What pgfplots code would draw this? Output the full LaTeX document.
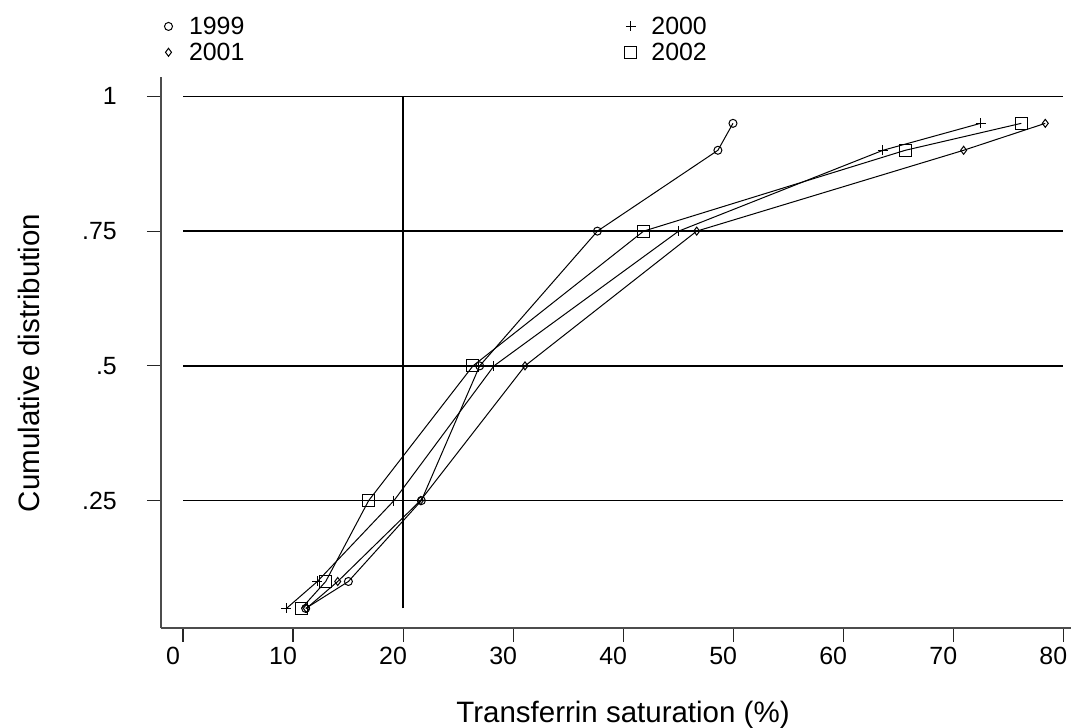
\documentclass[border=0pt]{standalone}
\usepackage{fontspec}
\setmainfont{Liberation Sans}
\usepackage{pgfplots}
\pgfplotsset{compat=1.18}

\begin{document}
\begin{tikzpicture}[x=1bp,y=1bp]
\path[use as bounding box] (0,0) rectangle (1073,728);
\begin{axis}[
    at={(161bp,100bp)}, anchor=south west,
    scale only axis, width=910bp, height=551bp,
    xmin=-2, xmax=80.7,
    ymin=0.0137, ymax=1.036,
    axis lines=left,
    axis line style={-, black!70, line width=1.2bp},
    tick align=outside,
    major tick length=14bp,
    tick style={black!85, line width=1.1bp},
    xtick={0,10,...,80},
    ytick={0.25,0.5,0.75,1},
    yticklabels={.25,.5,.75,1},
    /pgf/number format/assume math mode=true,
    tick label style={font=\fontsize{25}{30}\selectfont},
    xticklabel style={inner sep=0pt, anchor=north, yshift=-5bp, xshift=-10bp},
    yticklabel style={inner sep=0pt, anchor=east, xshift=-30bp},
    xlabel={Transferrin saturation (\%)},
    xlabel style={at={(axis description cs:0.5077,-0.1719)}, anchor=base,
                  font=\fontsize{29.6}{34}\selectfont},
    ylabel={Cumulative distribution},
    ylabel style={at={(axis description cs:-0.133,0.481)}, anchor=base,
                  font=\fontsize{29.6}{34}\selectfont},
    clip=false,
    legend columns=2,
    legend cell align=left,
    legend style={draw=none, fill=none, inner sep=0pt, outer sep=0pt,
        at={(axis description cs:-0.0011,1.1089)}, anchor=north west,
        font=\fontsize{25}{30}\selectfont,
        nodes={inner sep=0pt},
        row sep=7bp,
        /tikz/every odd column/.append style={column sep=12bp},
        /tikz/every even column/.append style={column sep=378bp}},
    legend image code/.code={\path (-8bp,0bp) (8bp,0bp);
        \draw[#1] plot[only marks] coordinates {(0bp,0bp)};},
]

% reference lines
\addplot[forget plot, black, line width=1.4bp] coordinates {(0,0.25)(80,0.25)};
\addplot[forget plot, black, line width=1.4bp] coordinates {(0,0.5)(80,0.5)};
\addplot[forget plot, black, line width=1.4bp] coordinates {(0,0.75)(80,0.75)};
\addplot[forget plot, black, line width=1.4bp] coordinates {(0,1)(80,1)};
\addplot[forget plot, black, line width=1.4bp] coordinates {(20,0.05)(20,1)};

% 1999
\addplot[black, line width=1bp, mark=o, mark size=4bp] coordinates {
    (11.15,0.05)(15.03,0.10)(21.66,0.25)(26.96,0.50)(37.66,0.75)(48.61,0.90)(49.98,0.95)};
\addlegendentry{1999}
% 2000
\addplot[black, line width=1bp, mark=+, mark size=5bp] coordinates {
    (9.40,0.05)(12.21,0.10)(19.17,0.25)(28.26,0.50)(45.04,0.75)(63.61,0.90)(72.48,0.95)};
\addlegendentry{2000}
% 2001
\addplot[black, line width=1bp, mark=diamond, mark size=4bp] coordinates {
    (11.21,0.05)(14.06,0.10)(21.57,0.25)(31.08,0.50)(46.68,0.75)(70.94,0.90)(78.36,0.95)};
\addlegendentry{2001}
% 2002
\addplot[black, line width=1bp, mark=square, mark size=6bp] coordinates {
    (10.76,0.05)(12.97,0.10)(16.87,0.25)(26.35,0.50)(41.86,0.75)(65.64,0.90)(76.18,0.95)};
\addlegendentry{2002}

\end{axis}
\end{tikzpicture}
\end{document}
